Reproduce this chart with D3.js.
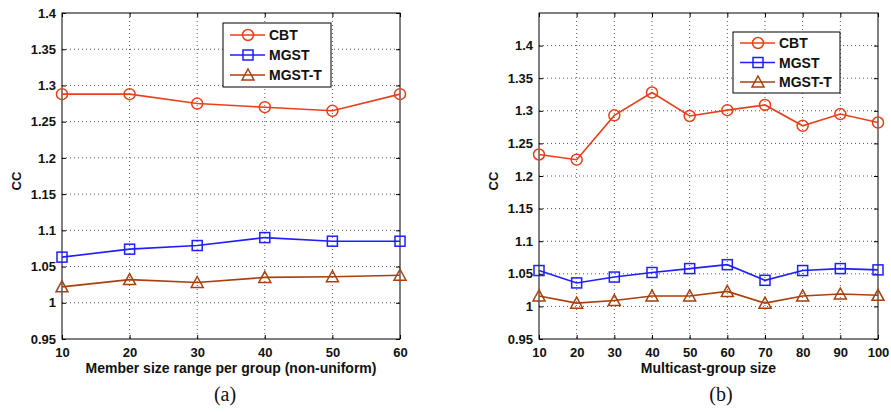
<!DOCTYPE html>
<html>
<head>
<meta charset="utf-8">
<script src="https://cdn.jsdelivr.net/npm/d3@7"></script>
<style>
  body { margin: 0; background: white; }
  text { font-family: "Liberation Sans", Arial, sans-serif; }
</style>
</head>
<body>
<div id="chart"></div>
<script>

// Series names for the legend
var seriesNames = ["CBT", "MGST", "MGST-T"];

// Panel (a): member size range per group
var xA = [10, 20, 30, 40, 50, 60];
var cbtA = [1.288, 1.288, 1.275, 1.270, 1.265, 1.288];
var mgstA = [1.063, 1.074, 1.079, 1.090, 1.085, 1.085];
var mgsttA = [1.022, 1.032, 1.028, 1.035, 1.036, 1.038];

// Panel (b): multicast-group size
var xB = [10, 20, 30, 40, 50, 60, 70, 80, 90, 100];
var cbtB = [1.233, 1.225, 1.293, 1.328, 1.292, 1.301, 1.309, 1.277, 1.295, 1.282];
var mgstB = [1.055, 1.036, 1.045, 1.052, 1.058, 1.064, 1.040, 1.055, 1.058, 1.056];
var mgsttB = [1.016, 1.005, 1.009, 1.016, 1.016, 1.023, 1.005, 1.016, 1.019, 1.017];

// Tick labels
var yTicks = [0.95, 1, 1.05, 1.1, 1.15, 1.2, 1.25, 1.3, 1.35, 1.4];
var xTicksA = [10, 20, 30, 40, 50, 60];
var xTicksB = [10, 20, 30, 40, 50, 60, 70, 80, 90, 100];

var W = 891, H = 412;
var colors = ["#e8401c", "#1f1fff", "#a8400c"];
var markers = ["circle", "square", "triangle"];

var svg = d3.select("#chart").append("svg")
    .attr("width", W)
    .attr("height", H);

function drawMarker(g, type, x, y, color) {
    if (type == "circle") {
        g.append("circle").attr("cx", x).attr("cy", y).attr("r", 5.5)
            .attr("fill", "none").attr("stroke", color).attr("stroke-width", 1.5);
    } else if (type == "square") {
        g.append("rect").attr("x", x - 5).attr("y", y - 5).attr("width", 10).attr("height", 10)
            .attr("fill", "none").attr("stroke", color).attr("stroke-width", 1.5);
    } else {
        g.append("path").attr("d", "M" + x + "," + (y - 6) + "L" + (x + 6) + "," + (y + 5) + "L" + (x - 6) + "," + (y + 5) + "Z")
            .attr("fill", "none").attr("stroke", color).attr("stroke-width", 1.5);
    }
}

var makePanel = function(opt) {

    var x = d3.scaleLinear().domain(opt.xDomain).range([opt.left, opt.right]);
    var y = d3.scaleLinear().domain(opt.yDomain).range([opt.bottom, opt.top]);

    var g = svg.append("g");

    //Grid lines
    g.append("g")
        .selectAll("line.gx")
        .data(opt.xTicks.slice(1, -1))
        .enter().append("line")
        .attr("x1", d => x(d)).attr("x2", d => x(d))
        .attr("y1", opt.top).attr("y2", opt.bottom)
        .attr("stroke", "#555").attr("stroke-dasharray", "1,3");

    g.append("g")
        .selectAll("line.gy")
        .data(yTicks.filter(d => y(d) > opt.top + 1 && y(d) < opt.bottom - 1))
        .enter().append("line")
        .attr("x1", opt.left).attr("x2", opt.right)
        .attr("y1", d => y(d)).attr("y2", d => y(d))
        .attr("stroke", "#555").attr("stroke-dasharray", "1,3");

    //Axes
    var fmt = d => String(+d.toFixed(2));

    g.append("g")
        .attr("transform", "translate(" + opt.left + ",0)")
        .call(d3.axisLeft(y).tickValues(yTicks).tickFormat(fmt).tickSizeInner(-4).tickSizeOuter(0).tickPadding(6));

    g.append("g")
        .attr("transform", "translate(" + opt.right + ",0)")
        .call(d3.axisRight(y).tickValues(yTicks).tickFormat("").tickSizeInner(-4).tickSizeOuter(0));

    g.append("g")
        .attr("transform", "translate(0," + opt.bottom + ")")
        .call(d3.axisBottom(x).tickValues(opt.xTicks).tickFormat(fmt).tickSizeInner(-4).tickSizeOuter(0).tickPadding(9));

    g.append("g")
        .attr("transform", "translate(0," + opt.top + ")")
        .call(d3.axisTop(x).tickValues(opt.xTicks).tickFormat("").tickSizeInner(-4).tickSizeOuter(0));

    g.selectAll(".domain").remove();
    g.selectAll(".tick line").attr("stroke", "#000");
    g.selectAll(".tick text")
        .style("font-family", "Liberation Sans, Arial, sans-serif")
        .style("font-size", "13px")
        .style("font-weight", "bold")
        .attr("fill", "#111");

    //Plot frame
    g.append("rect")
        .attr("x", opt.left).attr("y", opt.top)
        .attr("width", opt.right - opt.left).attr("height", opt.bottom - opt.top)
        .attr("fill", "none").attr("stroke", "#000").attr("stroke-width", 1);

    //Lines and markers
    var line = d3.line().x((d, i) => x(opt.xs[i])).y(d => y(d));

    opt.series.forEach(function(s, k) {
        g.append("path")
            .datum(s)
            .attr("d", line)
            .attr("fill", "none")
            .attr("stroke", colors[k])
            .attr("stroke-width", 1.6);

        s.forEach(function(v, i) {
            drawMarker(g, markers[k], x(opt.xs[i]), y(v), colors[k]);
        });
    });

    //Axis labels
    g.append("text")
        .attr("transform", "translate(" + opt.ylabX + "," + ((opt.top + opt.bottom) / 2 + 5) + ") rotate(-90)")
        .attr("text-anchor", "middle")
        .style("font-size", "13px")
        .style("font-weight", "bold")
        .attr("fill", "#111")
        .text("CC");

    g.append("text")
        .attr("x", (opt.left + opt.right) / 2)
        .attr("y", 373)
        .attr("text-anchor", "middle")
        .style("font-size", "14px")
        .style("font-weight", "bold")
        .attr("fill", "#111")
        .text(opt.xlabel);

    g.append("text")
        .attr("x", opt.capX)
        .attr("y", 401)
        .attr("text-anchor", "middle")
        .style("font-family", "Liberation Serif, Times New Roman, serif")
        .style("font-size", "20px")
        .attr("fill", "#111")
        .text(opt.caption);

    //Legend
    var lg = g.append("g").attr("transform", "translate(" + opt.lgX + "," + opt.lgY + ")");

    lg.append("rect")
        .attr("width", opt.lgW).attr("height", opt.lgH)
        .attr("fill", "white").attr("stroke", "#000");

    seriesNames.forEach(function(name, k) {
        var ry = opt.lgRow0 + k * opt.lgSpacing;
        lg.append("line")
            .attr("x1", 7).attr("x2", 42).attr("y1", ry).attr("y2", ry)
            .attr("stroke", colors[k]).attr("stroke-width", 1.6);
        drawMarker(lg, markers[k], 25, ry, colors[k]);
        lg.append("text")
            .attr("x", 46).attr("y", ry + 5)
            .style("font-size", "14px")
            .style("font-weight", "bold")
            .attr("fill", "#111")
            .text(name);
    });
}

makePanel({
    left: 62, right: 400, top: 13, bottom: 339,
    xDomain: [10, 60], yDomain: [0.95, 1.4],
    xTicks: xTicksA, xs: xA,
    series: [cbtA, mgstA, mgsttA],
    xlabel: "Member size range per group (non-uniform)",
    caption: "(a)", capX: 225, ylabX: 21,
    lgX: 223, lgY: 23, lgW: 108, lgH: 64, lgRow0: 12, lgSpacing: 20
});

makePanel({
    left: 539, right: 878, top: 13, bottom: 339,
    xDomain: [10, 100], yDomain: [0.95, 1.45],
    xTicks: xTicksB, xs: xB,
    series: [cbtB, mgstB, mgsttB],
    xlabel: "Multicast-group size",
    caption: "(b)", capX: 721, ylabX: 498,
    lgX: 733, lgY: 32, lgW: 107, lgH: 61, lgRow0: 11, lgSpacing: 19.5
});

</script>
</body>
</html>
